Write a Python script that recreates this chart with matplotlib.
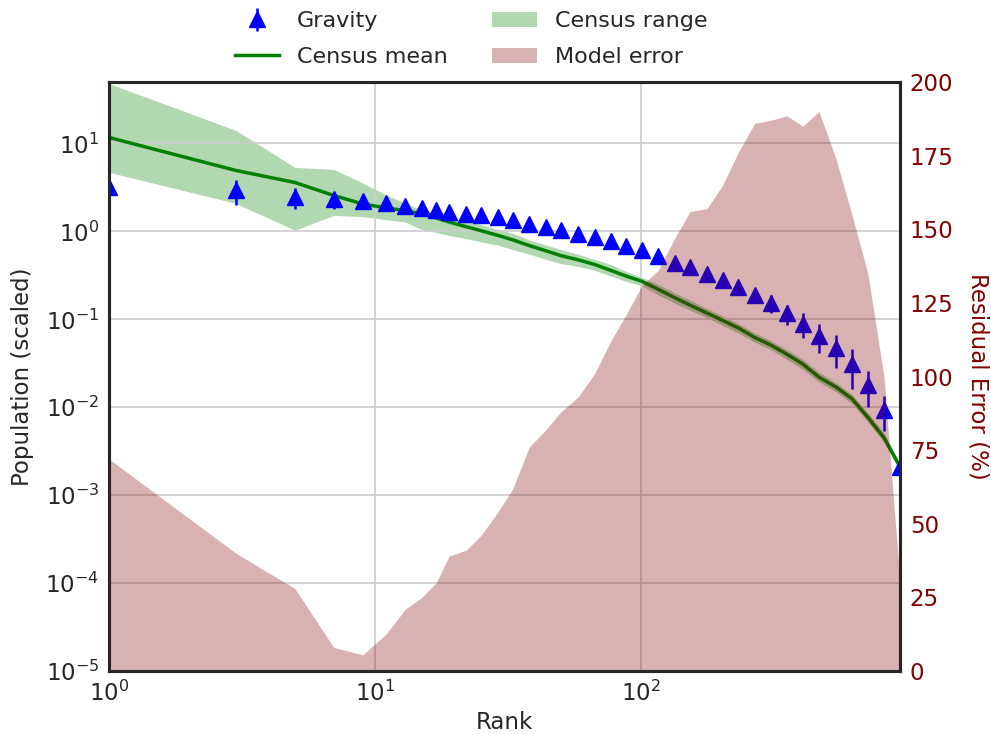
import matplotlib
matplotlib.use('Agg')

import matplotlib.pyplot as plt
import numpy as np

# ─── Data ───────────────────────────────────────────────────────────────────
ranks = [1, 3, 5, 7, 9, 11, 13, 15, 17, 19, 22, 25, 29, 33, 38, 44, 50, 58,
         67, 77, 88, 101, 116, 134, 153, 177, 203, 232, 268, 308, 354, 406,
         467, 541, 621, 713, 820, 942]

gravity = [3.16, 2.92, 2.43, 2.31, 2.2, 2.1, 1.92, 1.83, 1.76, 1.68, 1.56,
           1.52, 1.44, 1.33, 1.20, 1.11, 1.03, 0.925, 0.855, 0.77, 0.69, 0.61,
           0.53, 0.44, 0.39, 0.33, 0.28, 0.23, 0.19, 0.153, 0.117, 0.089,
           0.065, 0.047, 0.031, 0.018, 0.0093, 0.0021]

gravity_err = [0.4, 0.95, 0.65, 0.5, 0.3, 0.25, 0.18, 0.15, 0.12, 0.1, 0.1,
               0.08, 0.07, 0.06, 0.05, 0.05, 0.04, 0.04, 0.03, 0.03, 0.03,
               0.02, 0.02, 0.02, 0.015, 0.015, 0.015, 0.012, 0.01, 0.035,
               0.03, 0.028, 0.024, 0.019, 0.015, 0.008, 0.004, 0.0003]

census_mean = [11.7, 4.93, 3.6, 2.56, 2.05, 1.85, 1.72, 1.58, 1.42, 1.28,
               1.13, 1.02, 0.9, 0.8, 0.69, 0.6, 0.53, 0.475, 0.42, 0.36, 0.31,
               0.27, 0.22, 0.176, 0.145, 0.118, 0.097, 0.08, 0.062, 0.051,
               0.04, 0.031, 0.022, 0.017, 0.0125, 0.0077, 0.0045, 0.0021]

census_low = [4.7, 2.08, 1.03, 1.52, 1.47, 1.36, 1.28, 1.05, 0.97, 0.9, 0.83,
              0.76, 0.7, 0.62, 0.55, 0.48, 0.43, 0.4, 0.36, 0.31, 0.27, 0.24,
              0.19, 0.153, 0.127, 0.104, 0.085, 0.07, 0.055, 0.045, 0.035,
              0.027, 0.0194, 0.015, 0.011, 0.0068, 0.004, 0.0019]

census_high = [48.0, 14.1, 5.34, 5.07, 3.55, 2.6, 2.1, 1.75, 1.6, 1.45, 1.3,
               1.2, 1.05, 0.95, 0.8, 0.7, 0.62, 0.55, 0.48, 0.42, 0.35, 0.3,
               0.25, 0.2, 0.165, 0.133, 0.109, 0.09, 0.07, 0.057, 0.045,
               0.035, 0.025, 0.019, 0.014, 0.0087, 0.0051, 0.0023]

model_error = [72, 40, 28, 8, 5.5, 12.5, 21, 25, 30, 39, 41, 46, 54, 62, 76,
               82, 88, 93, 101, 112, 121, 131, 136, 147, 156, 157, 165, 176,
               186, 187, 188.5, 185, 190, 174, 155, 135, 100, 30]

_TEXT = "#262626"
_ERR_COLOR = "maroon"
_FS = 16.5

plt.rcParams.update({
    "font.family": "DejaVu Sans",
    "font.size": _FS,
    "text.color": _TEXT,
    "axes.labelcolor": _TEXT,
    "xtick.color": _TEXT,
    "ytick.color": _TEXT,
})

fig = plt.figure(figsize=(9.91, 7.35), dpi=100)
ax = fig.add_axes([109 / 991, 64 / 735, 791 / 991, 589 / 735])

# census range + mean
band = ax.fill_between(ranks, census_low, census_high, color="green",
                       alpha=0.3, linewidth=0)
mean_line, = ax.plot(ranks, census_mean, color="green", linewidth=2.5)

# gravity model points
grav = ax.errorbar(ranks, gravity, yerr=gravity_err, fmt="^", color="blue",
                   markersize=11, elinewidth=1.8, capsize=0)

ax.set_xscale("log")
ax.set_yscale("log")
ax.set_xlim(ranks[0], ranks[-1])
ax.set_ylim(1e-5, 50)
ax.set_xlabel("Rank", fontsize=_FS)
ax.set_ylabel("Population (scaled)", fontsize=_FS, labelpad=8)
ax.grid(True, which="major", color="#cccccc", linewidth=1.2)
ax.tick_params(which="both", length=0, labelsize=_FS, pad=7)

# residual error on twin axis
ax2 = ax.twinx()
err_fill = ax2.fill_between(ranks, 0, model_error, color=_ERR_COLOR,
                            alpha=0.3, linewidth=0)
ax2.set_ylim(0, 200)
ax2.set_yticks(np.arange(0, 201, 25))
ax2.set_ylabel("Residual Error (%)", color=_ERR_COLOR, fontsize=_FS,
               rotation=270, labelpad=26)
ax2.tick_params(axis="y", colors=_ERR_COLOR, length=0, labelsize=_FS, pad=7)

for a in (ax, ax2):
    for spine in a.spines.values():
        spine.set_color(_TEXT)
        spine.set_linewidth(2.2)

fig.legend([grav, mean_line, band, err_fill],
           ["Gravity", "Census mean", "Census range", "Model error"],
           loc="upper center", bbox_to_anchor=(471 / 991, 1.012), ncol=2,
           frameon=False, fontsize=16, labelspacing=0.72)

fig.savefig("out.png", dpi=100)
